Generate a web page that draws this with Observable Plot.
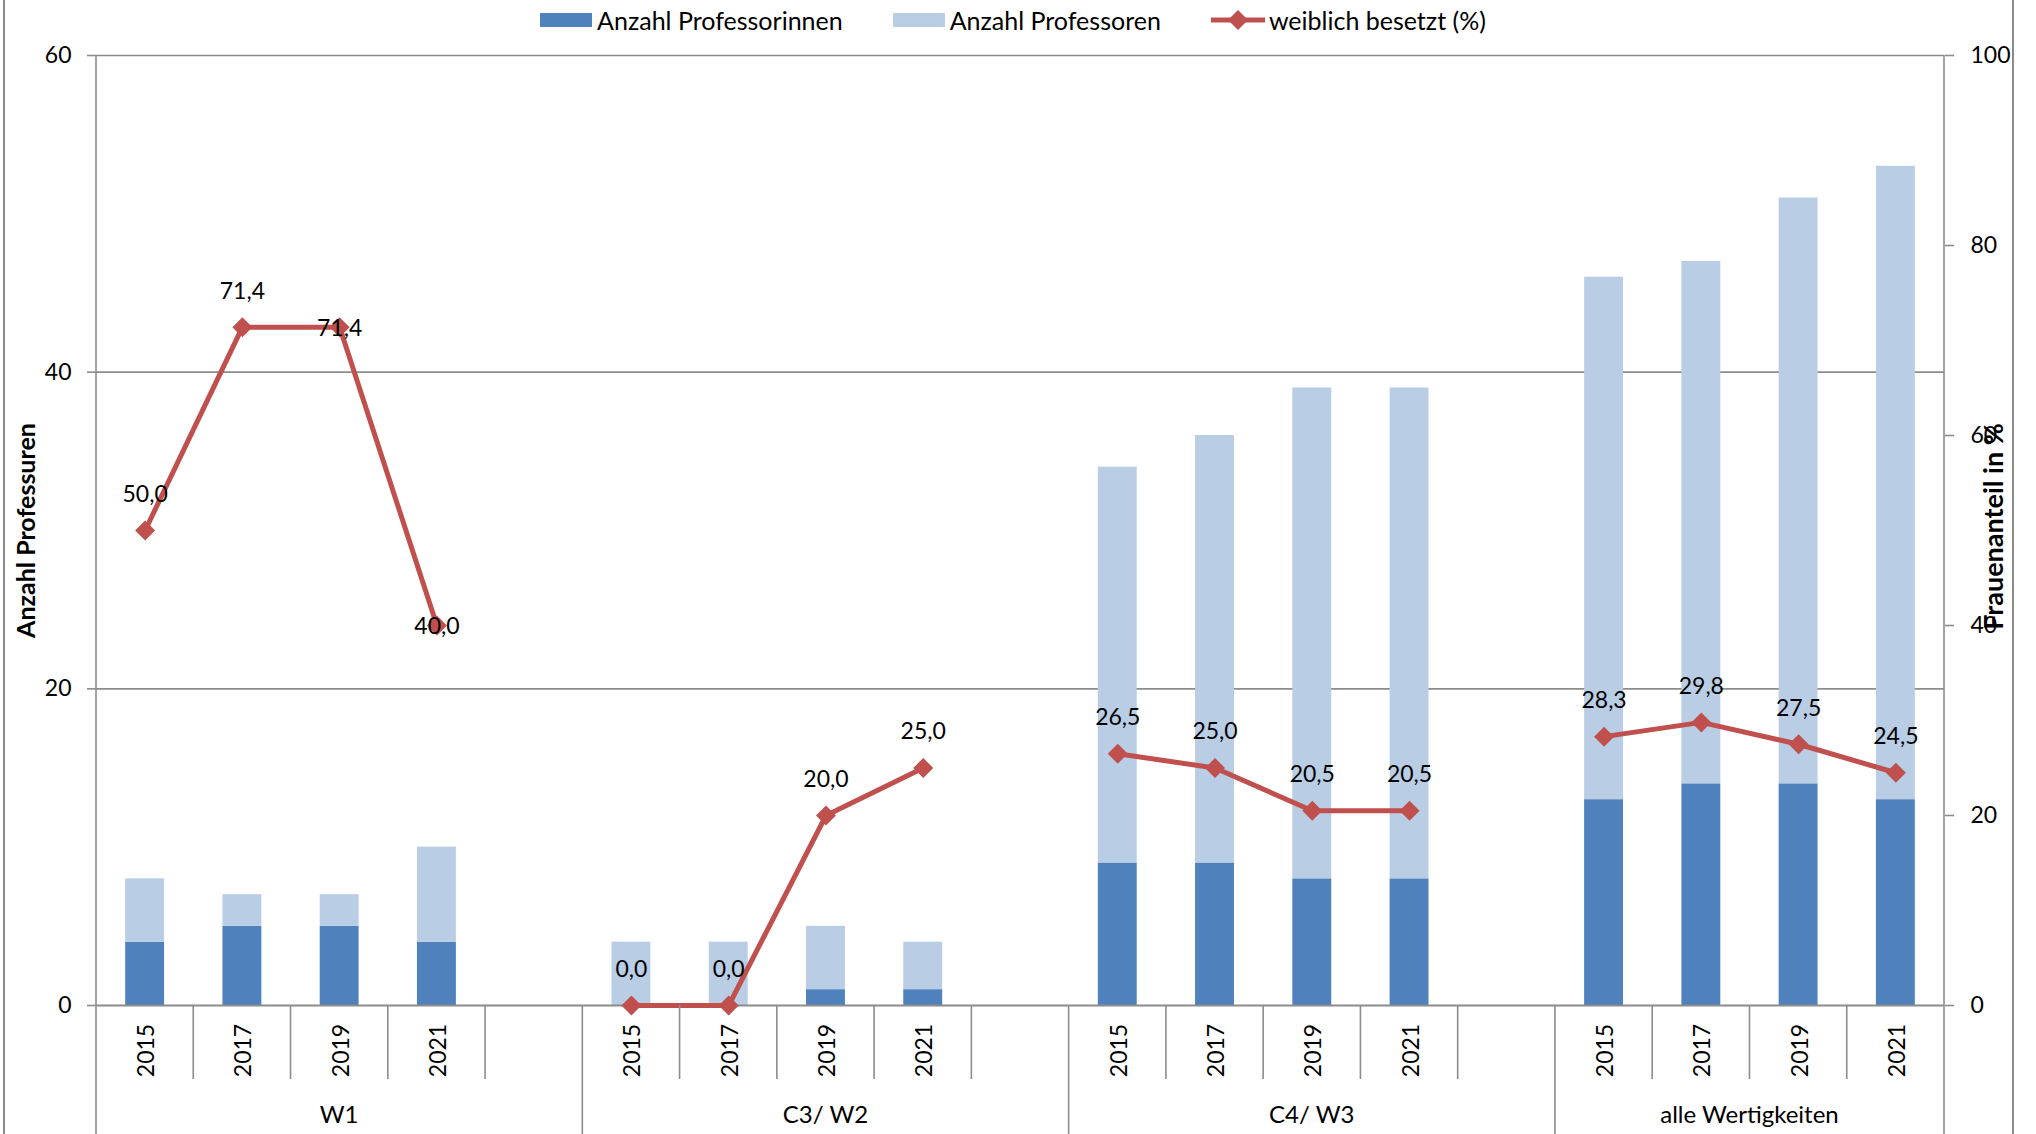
<!DOCTYPE html>
<html>
<head>
<meta charset="utf-8">
<script src="https://cdn.jsdelivr.net/npm/d3@7"></script>
<script src="https://cdn.jsdelivr.net/npm/@observablehq/plot@0.6"></script>
<style>
  html, body { margin: 0; padding: 0; background: #fff; }
  #wrap { position: relative; width: 2036px; height: 1134px; overflow: hidden; font-family: Lato, sans-serif; color: #000; }
  #frame { position: absolute; left: 3px; top: 0; width: 2011px; height: 1134px; box-sizing: border-box;
           border-left: 2px solid #8c8c8c; border-right: 2px solid #8c8c8c; pointer-events: none; }
  #legend { height: 40px; display: flex; justify-content: center; align-items: center; gap: 50px;
            font-size: 25px; padding-right: 10px; box-sizing: border-box; }
  .item { display: flex; align-items: center; white-space: nowrap; }
  .sw { display: inline-block; width: 52px; height: 14px; margin-right: 5px; }
  .item svg { margin-right: 4px; }
</style>
</head>
<body>
<div id="wrap">
  <div id="legend"></div>
  <div id="chart"></div>
  <div id="frame"></div>
</div>
<script>
// ---------- data ----------
const groups = ["W1", "C3/ W2", "C4/ W3", "alle Wertigkeiten"];
const years = ["2015", "2017", "2019", "2021"];
const professorinnen = [4, 5, 5, 4, 0, 0, 1, 1, 9, 9, 8, 8, 13, 14, 14, 13];
const professoren = [4, 2, 2, 6, 4, 4, 4, 3, 25, 27, 31, 31, 33, 33, 37, 40];
const weiblichProzent = [50.0, 71.4, 71.4, 40.0, 0.0, 0.0, 20.0, 25.0, 26.5, 25.0, 20.5, 20.5, 28.3, 29.8, 27.5, 24.5];
const leftTicks = [0, 20, 40, 60];
const rightTicks = [0, 20, 40, 60, 80, 100];
const seriesNames = ["Anzahl Professorinnen", "Anzahl Professoren", "weiblich besetzt (%)"];
const leftTitle = "Anzahl Professuren";
const rightTitle = "Frauenanteil in %";

// ---------- styling ----------
const DARK = "#4F81BD", LIGHT = "#B9CDE5", RED = "#C0504D", GRID = "#8c8c8c";
const PCT = 60 / 100;            // right axis (0..100 %) mapped onto left axis (0..60)
const PAD_INNER = 0.6;
const W = 2036, H = 1094, MT = 15, MR = 92, MB = 129, ML = 96;
const labelsOnPoint = new Set(["W1|2019", "W1|2021"]);

// ---------- derived tables ----------
const slots = [];
groups.forEach((g, gi) => {
  years.forEach(y => slots.push(`${g}|${y}`));
  if (gi < groups.length - 1) slots.push(`${g}|gap`);
});
const barRows = [], lineRows = [], yearRows = [];
groups.forEach((g, gi) => years.forEach((y, yi) => {
  const i = gi * years.length + yi;
  barRows.push({slot: `${g}|${y}`, series: seriesNames[0], value: professorinnen[i]});
  lineRows.push({slot: `${g}|${y}`, group: g, pct: weiblichProzent[i]});
  yearRows.push({slot: `${g}|${y}`, year: y});
}));
groups.forEach((g, gi) => years.forEach((y, yi) => {
  const i = gi * years.length + yi;
  barRows.push({slot: `${g}|${y}`, series: seriesNames[1], value: professoren[i]});
}));
const fmt = d => d.pct.toFixed(1).replace(".", ",");

// ---------- legend ----------
const legend = document.getElementById("legend");
[DARK, LIGHT].forEach((c, i) => {
  const it = document.createElement("span"); it.className = "item";
  it.innerHTML = `<span class="sw" style="background:${c}"></span>${seriesNames[i]}`;
  legend.appendChild(it);
});
{
  const it = document.createElement("span"); it.className = "item";
  it.innerHTML = `<svg width="54" height="22"><line x1="0" x2="54" y1="11" y2="11" stroke="${RED}" stroke-width="5"/>` +
    `<path d="M27,1 L37,11 L27,21 L17,11 Z" fill="${RED}"/></svg>${seriesNames[2]}`;
  legend.appendChild(it);
}

// ---------- chart ----------
const chart = Plot.plot({
  width: W, height: H, marginTop: MT, marginRight: MR, marginBottom: MB, marginLeft: ML,
  style: {fontFamily: "Lato, sans-serif", fontSize: "23px", color: "#000", background: "white", overflow: "visible"},
  x: {type: "band", domain: slots, paddingInner: PAD_INNER, paddingOuter: PAD_INNER / 2, round: false, axis: null},
  y: {domain: [0, 60], axis: null},
  color: {domain: seriesNames.slice(0, 2), range: [DARK, LIGHT]},
  marks: [
    Plot.ruleY(leftTicks.filter(d => d > 0), {stroke: GRID, strokeWidth: 1.6}),
    Plot.barY(barRows, {x: "slot", y: "value", fill: "series"}),
    Plot.ruleY([0], {stroke: GRID, strokeWidth: 2}),
    Plot.axisY(leftTicks, {anchor: "left", tickSize: 9, tickPadding: 16, stroke: GRID, strokeWidth: 1.6, fontSize: 23, label: null}),
    Plot.axisY(rightTicks.map(d => d * PCT), {anchor: "right", tickSize: 9, tickPadding: 17, stroke: GRID, strokeWidth: 1.6,
      fontSize: 23, tickFormat: d => String(Math.round(d / PCT)), label: null}),
    Plot.line(lineRows, {x: "slot", y: d => d.pct * PCT, z: "group", stroke: RED, strokeWidth: 5}),
    Plot.dot(lineRows, {x: "slot", y: d => d.pct * PCT, symbol: "diamond2", r: 9, fill: RED, stroke: "none"}),
    Plot.text(lineRows.filter(d => !labelsOnPoint.has(d.slot)), {x: "slot", y: d => d.pct * PCT, text: fmt, dy: -36, fontSize: 23}),
    Plot.text(lineRows.filter(d => labelsOnPoint.has(d.slot)), {x: "slot", y: d => d.pct * PCT, text: fmt, dy: 1, fontSize: 23}),
    Plot.text(yearRows, {x: "slot", text: "year", frameAnchor: "bottom", dx: 9, dy: 45, rotate: -90, textAnchor: "middle", fontSize: 23}),
    Plot.text([leftTitle], {frameAnchor: "left", dx: -70, dy: 0, rotate: -90, textAnchor: "middle", fontWeight: "bold", fontSize: 25}),
    Plot.text([rightTitle], {frameAnchor: "right", dx: 50, dy: -4, rotate: -90, textAnchor: "middle", fontWeight: "bold", fontSize: 27})
  ]
});
document.getElementById("chart").appendChild(chart);

// ---------- hierarchical category axis (separators + group labels) from Plot's x scale ----------
const xs = chart.scale("x");
const step = xs.apply(slots[1]) - xs.apply(slots[0]);
const leftOf = s => xs.apply(s) - (step - xs.bandwidth) / 2;
const frameBottom = H - MB;
const svg = d3.select(chart);
const g = svg.append("g").attr("stroke", GRID).attr("stroke-width", 1.6);
// axis lines running down to the bottom edge
g.append("line").attr("x1", ML).attr("x2", ML).attr("y1", MT).attr("y2", H);
g.append("line").attr("x1", W - MR).attr("x2", W - MR).attr("y1", MT).attr("y2", H);
groups.forEach((grp, gi) => {
  const own = slots.filter(s => s.startsWith(grp + "|"));
  own.forEach((s, si) => {
    if (si === 0) {
      if (gi > 0) g.append("line").attr("x1", leftOf(s)).attr("x2", leftOf(s)).attr("y1", frameBottom).attr("y2", H);
    } else {
      g.append("line").attr("x1", leftOf(s)).attr("x2", leftOf(s)).attr("y1", frameBottom).attr("y2", frameBottom + 74);
    }
  });
  const cx = (leftOf(own[0]) + leftOf(own[own.length - 1]) + step) / 2;
  svg.append("text").attr("x", cx).attr("y", frameBottom + 108).attr("text-anchor", "middle")
    .attr("dominant-baseline", "central").attr("font-family", "Lato, sans-serif").attr("font-size", 24)
    .attr("fill", "#000").text(grp);
});
</script>
</body>
</html>
